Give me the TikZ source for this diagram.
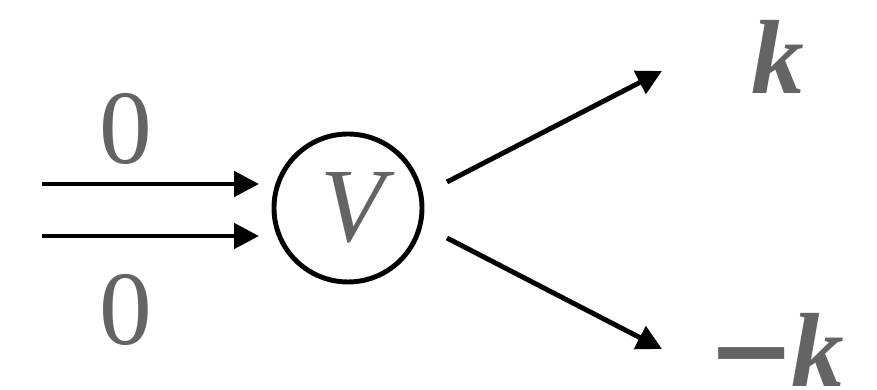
\documentclass[tikz,border=0pt]{standalone}
\usepackage{fontspec}
\setmainfont{Liberation Serif}
\newfontfamily\minusfont{DejaVu Serif}
\usetikzlibrary{arrows.meta, positioning}
\definecolor{tgrey}{HTML}{646464}
\tikzset{
  every picture/.style={line width=1.4pt},
  vertex/.style={draw=black, circle, minimum size=1.48cm, inner sep=0pt},
  lbl/.style={text=tgrey, font=\fontsize{30}{34}\selectfont, inner sep=0pt},
  arrow/.style={-{Triangle[length=2.5mm, width=2.5mm]}, draw=black},
}

\begin{document}
\begin{tikzpicture}
  \useasboundingbox (0,0) rectangle (8.77,3.90);
  % vertex
  \node[vertex] (V) at (3.48,1.82) {};
  \node[lbl, xshift=0.05cm] (Vtxt) at (V.center) {\itshape V};
  % incoming legs
  \coordinate (in1) at (0.42,2.06);
  \coordinate (in2) at (0.42,1.54);
  \coordinate (e1) at (2.59,2.06);
  \coordinate (e2) at (2.59,1.54);
  \draw[arrow] (in1) -- (e1);
  \draw[arrow] (in2) -- (e2);
  \node[lbl] (z1) at (1.26,2.61) {0};
  \node[lbl] (z2) at (1.26,0.80) {0};
  % outgoing legs
  \coordinate (o1) at (4.47,2.08);
  \coordinate (o2) at (4.47,1.52);
  \coordinate (t1) at (6.62,3.19);
  \coordinate (t2) at (6.62,0.41);
  \draw[arrow] (o1) -- (t1);
  \draw[arrow] (o2) -- (t2);
  \node[lbl] (kp) at (7.78,3.33) {\bfseries\itshape k};
  \node[lbl] (km) at (7.76,0.40) {{\minusfont\bfseries −}\kern-0.04em{\bfseries\itshape k}};
\end{tikzpicture}
\end{document}
